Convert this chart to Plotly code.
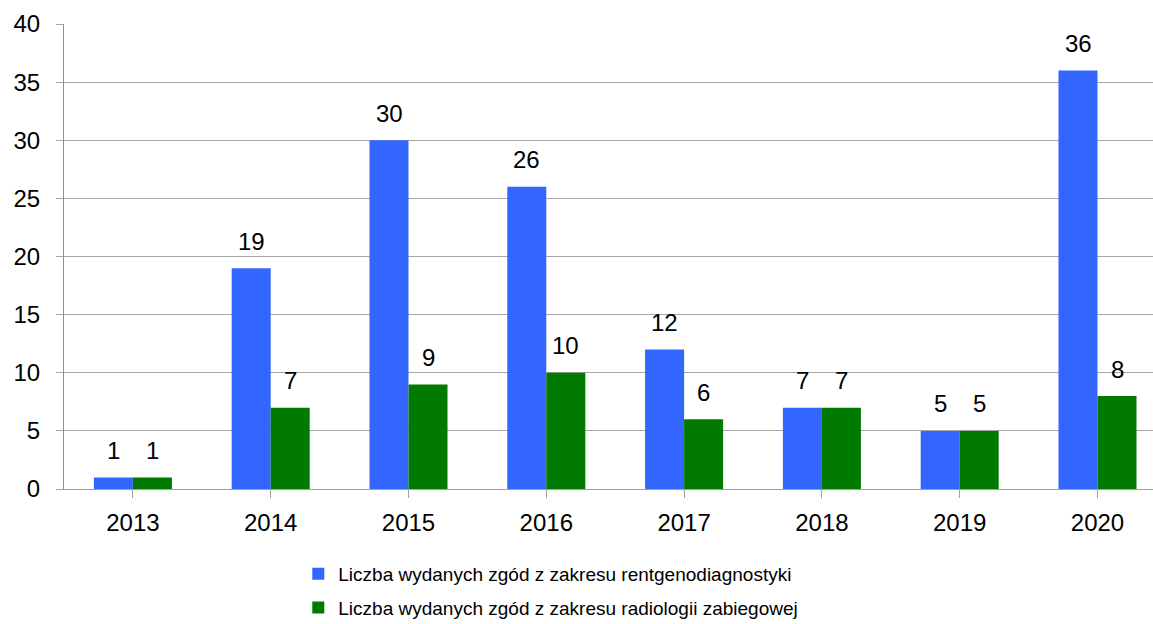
import plotly.graph_objects as go

years = ["2013", "2014", "2015", "2016", "2017", "2018", "2019", "2020"]
rentgen = [1, 19, 30, 26, 12, 7, 5, 36]
zabieg = [1, 7, 9, 10, 6, 7, 5, 8]
names = [
    "Liczba wydanych zgód z zakresu rentgenodiagnostyki",
    "Liczba wydanych zgód z zakresu radiologii zabiegowej",
]
colors = ["#3366FF", "#007A00"]

FONT = "Liberation Sans, Arial, sans-serif"
W, H = 1153, 624
L, T, B = 64, 24, 135
CAT_PX = 137.8          # width of one category slot in pixels
BAR_PX = 39             # width of one bar in pixels
plot_w = W - L
plot_h = H - T - B
x_max = -0.5 + plot_w / CAT_PX

fig = go.Figure()
for k, (name, vals, col) in enumerate(zip(names, [rentgen, zabieg], colors)):
    fig.add_trace(go.Bar(
        x=list(range(len(years))), y=vals, name=name, legendgroup=f"g{k}",
        marker=dict(color=col, line=dict(width=0)),
    ))

# value labels above each bar
for i, (a, b) in enumerate(zip(rentgen, zabieg)):
    for v, sh in ((a, -BAR_PX / 2), (b, BAR_PX / 2)):
        fig.add_annotation(
            x=i, y=v, xref="x", yref="y", text=str(v), showarrow=False,
            xshift=sh, yshift=27, font=dict(family=FONT, size=24, color="#000"),
        )

fig.update_layout(
    width=W, height=H,
    margin=dict(l=L, r=0, t=T, b=B, autoexpand=False),
    paper_bgcolor="white", plot_bgcolor="white",
    barmode="group", bargap=1 - 2 * BAR_PX / CAT_PX, bargroupgap=0,
    font=dict(family=FONT, size=24, color="#000"),
    showlegend=True,
    legend=dict(
        orientation="v", x=0.447, xanchor="center",
        y=-(555 - (H - B)) / plot_h, yanchor="top",
        font=dict(family=FONT, size=19, color="#000"),
        itemwidth=30, tracegroupgap=6, traceorder="grouped",
        bgcolor="rgba(0,0,0,0)",
    ),
)
fig.update_xaxes(
    range=[-0.5, x_max], tickmode="array",
    tickvals=list(range(len(years))), ticktext=years,
    showgrid=False, showline=True, linecolor="#A0A0A0", linewidth=1,
    ticks="outside", ticklen=8, tickcolor="#A0A0A0",
    tickson="boundaries", tickfont=dict(size=24),
    zeroline=False, ticklabelstandoff=4,
)
fig.update_yaxes(
    range=[0, 40], dtick=5,
    showgrid=True, gridcolor="#A6A6A6", gridwidth=1.3,
    showline=True, linecolor="#909090", linewidth=1,
    ticks="outside", ticklen=7, tickcolor="#A6A6A6",
    tickfont=dict(size=24), zeroline=False,
    ticklabelstandoff=11,
)

fig.write_html("out.html")
